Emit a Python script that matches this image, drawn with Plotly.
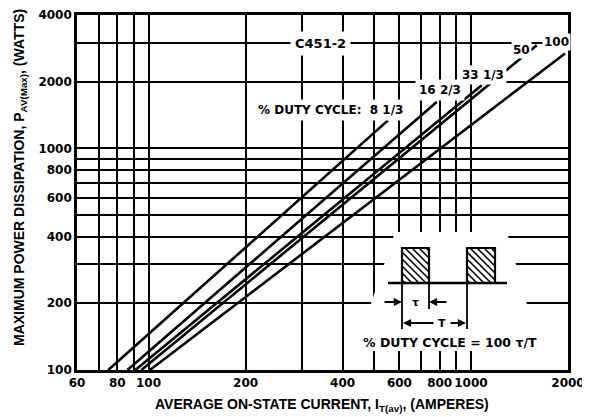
import plotly.graph_objects as go

# ---- data ----
duty_labels = ["8 1/3", "16 2/3", "33 1/3", "50", "100"]
current_start = [75, 86, 91, 95, 101]
power_start = [100, 100, 100, 100, 100]
current_end = [553, 783, 1080, 1600, 1958]
power_end = [1338, 1620, 1930, 2920, 2683]

x_grid = [60, 70, 80, 90, 100, 200, 300, 400, 500, 600, 700, 800, 900, 1000, 2000]
x_tick_text = ["60", "", "80", "", "100", "200", "", "400", "", "600", "", "800", "", "1000", "2000"]
y_grid = [100, 200, 300, 400, 500, 600, 700, 800, 900, 1000, 2000, 3000, 4000]
y_tick_text = ["100", "200", "", "400", "", "600", "", "800", "", "1000", "2000", "", "4000"]

# page has an 8px body margin; plot area in page pixels: x 77..568, y 15..370
OFF = 8
W, H = 590 - OFF, 417 - OFF
PL, PR, PT, PB = 77, 568, 15, 370
ML, MT = PL - OFF, PT - OFF
MR = W + OFF - PR
MB = H + OFF - PB
PW, PH = PR - PL, PB - PT


def X(px):
    return (px - PL) / PW


def Y(py):
    return (PB - py) / PH


fig = go.Figure()
for i, lab in enumerate(duty_labels):
    fig.add_trace(go.Scatter(
        x=[current_start[i], current_end[i]],
        y=[power_start[i], power_end[i]],
        mode="lines", name=lab,
        line=dict(color="black", width=2.6),
        showlegend=False,
    ))

TICKFONT = dict(family="DejaVu Sans", size=12, color="black", weight="bold")
axis_common = dict(
    type="log", showgrid=True, gridcolor="black", gridwidth=2,
    showline=True, linecolor="black", linewidth=2.6, mirror=True,
    ticks="", tickfont=TICKFONT, zeroline=False, automargin=False,
)
fig.update_xaxes(range=[1.77815, 3.30103], tickmode="array", tickangle=0,
                 tickvals=x_grid, ticktext=x_tick_text, **axis_common)
fig.update_yaxes(range=[2, 3.60206], tickmode="array",
                 tickvals=y_grid, ticktext=y_tick_text, **axis_common)

shapes = []
# white area behind the pulse inset (hides gridlines)
path = "M {} {} L {} {} L {} {} L {} {} Z".format(
    X(395), Y(232), X(507), Y(232), X(540), Y(351), X(355), Y(351))
shapes.append(dict(type="path", path=path, xref="paper", yref="paper",
                   fillcolor="white", line=dict(width=0), layer="above"))


def seg(x0, y0, x1, y1, w=2):
    shapes.append(dict(type="line", xref="paper", yref="paper",
                       x0=X(x0), y0=Y(y0), x1=X(x1), y1=Y(y1),
                       line=dict(color="black", width=w), layer="above"))


# pulse baseline and pulses
seg(388, 283, 507, 283, 2.4)
for (rx0, rx1) in [(402, 429), (467, 495)]:
    ry0, ry1 = 248, 283
    Wd, Hd = rx1 - rx0, ry1 - ry0
    d = -Hd + 3
    while d < Wd:
        ya = ry0 + max(0, -d)
        yb = ry0 + min(Hd, Wd - d)
        if yb > ya:
            seg(rx0 + d + (ya - ry0), ya, rx0 + d + (yb - ry0), yb, 1.6)
        d += 7
    shapes.append(dict(type="rect", xref="paper", yref="paper",
                       x0=X(rx0), y0=Y(ry1), x1=X(rx1), y1=Y(ry0),
                       line=dict(color="black", width=2.2), layer="above"))
# dimension lines
seg(402, 283, 402, 329, 1.8)
seg(429, 283, 429, 309, 1.8)
seg(467, 283, 467, 329, 1.8)
fig.update_layout(shapes=shapes)

LBL = dict(family="DejaVu Sans", size=12, color="black", weight="bold")
ann = []


def label(text, cx, cy, size=12, bg=True, pad=2):
    f = dict(LBL)
    f["size"] = size
    ann.append(dict(text=text, x=X(cx), y=Y(cy), xref="paper", yref="paper",
                    showarrow=False, font=f, xanchor="center", yanchor="middle",
                    bgcolor="white" if bg else None, borderpad=pad))


label("C451-2", 320, 43, 13, pad=4)
label("% DUTY CYCLE:  8 1/3", 330, 110, 12, pad=3)
label("16 2/3", 440, 90, 12, pad=3)
label("33 1/3", 483, 75, 12, pad=2)
label("50", 521, 50, 12, pad=1)
label("100", 556, 42, 12, pad=1)
label("% DUTY CYCLE = 100 τ/T", 450, 342, 12.5, bg=False)
label("τ", 415, 302, 11, bg=False)
label("T", 442, 323, 11, bg=False)


def arrow(tx, ty, fx, fy):
    ann.append(dict(x=X(tx), y=Y(ty), xref="paper", yref="paper",
                    ax=fx - tx, ay=fy - ty, axref="pixel", ayref="pixel",
                    text="", showarrow=True, arrowhead=2, arrowsize=0.9,
                    arrowwidth=1.8, arrowcolor="black"))


arrow(402, 302, 383, 302)
arrow(429, 302, 448, 302)
arrow(403, 323, 435, 323)
arrow(466, 323, 449, 323)

TITLEFONT = dict(family="Liberation Sans Narrow, Liberation Sans", size=14,
                 color="black", weight="bold")
ann.append(dict(text="AVERAGE ON-STATE CURRENT, I<sub>T(av)</sub>, (AMPERES)",
                x=X(322), y=Y(405), xref="paper", yref="paper", showarrow=False,
                font=TITLEFONT, xanchor="center", yanchor="middle"))
ann.append(dict(text="MAXIMUM POWER DISSIPATION, P<sub>AV(Max)</sub>, (WATTS)",
                x=X(20), y=Y(178), xref="paper", yref="paper", showarrow=False,
                font=TITLEFONT, textangle=-90, xanchor="center", yanchor="middle"))
fig.update_layout(annotations=ann)

fig.update_layout(
    width=W, height=H,
    margin=dict(l=ML, r=MR, t=MT, b=MB, pad=0, autoexpand=False),
    paper_bgcolor="white", plot_bgcolor="white",
    showlegend=False,
)
fig.write_html("out.html")
